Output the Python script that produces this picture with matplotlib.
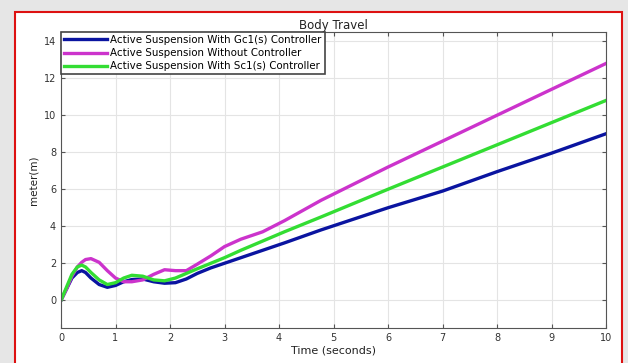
import numpy as np
import matplotlib.pyplot as plt
from matplotlib.patches import Rectangle

t = [0, 0.1, 0.2, 0.3, 0.38, 0.45, 0.55, 0.7, 0.85, 1.0, 1.15, 1.3, 1.5, 1.7, 1.9,
     2.1, 2.3, 2.5, 2.75, 3.0, 3.3, 3.7, 4.1, 4.77, 6.0, 7.0, 8.0, 9.0, 10.0]
gc1 = [0, 0.6, 1.2, 1.5, 1.6, 1.5, 1.2, 0.85, 0.7, 0.8, 1.0, 1.12, 1.15, 1.0, 0.92,
       0.95, 1.15, 1.45, 1.75, 2.0, 2.3, 2.7, 3.1, 3.8, 5.0, 5.9, 6.95, 7.95, 9.0]
without = [0, 0.6, 1.3, 1.8, 2.05, 2.2, 2.25, 2.05, 1.6, 1.2, 1.0, 1.0, 1.1, 1.4, 1.65,
           1.6, 1.6, 1.95, 2.4, 2.9, 3.3, 3.7, 4.3, 5.4, 7.2, 8.6, 10.0, 11.4, 12.8]
sc1 = [0, 0.7, 1.4, 1.8, 1.9, 1.8, 1.5, 1.1, 0.85, 0.95, 1.2, 1.35, 1.3, 1.1, 1.05,
       1.2, 1.45, 1.7, 2.0, 2.3, 2.7, 3.2, 3.7, 4.5, 6.0, 7.2, 8.4, 9.6, 10.8]

labels = ["Active Suspension With Gc1(s) Controller",
          "Active Suspension Without Controller",
          "Active Suspension With Sc1(s) Controller"]
colors = ["#0a14a0", "#cc33cc", "#33dd33"]

fig = plt.figure(figsize=(6.28, 3.63), dpi=100, facecolor="#e6e6e6")

# White panel with red border, behind the axes
fig.patches.append(Rectangle((15 / 628, -0.01), 607 / 628, 1.01 - 12 / 363,
                             transform=fig.transFigure, facecolor="white",
                             edgecolor="#dd1111", lw=1.5, zorder=-1))

ax = fig.add_axes([61 / 628, 1 - 328 / 363, 545 / 628, 296 / 363])
ax.set_zorder(1)

for y, lab, col in zip([gc1, without, sc1], labels, colors):
    ax.plot(t, y, color=col, lw=2.4, label=lab)

ax.set_xlim(0, 10)
ax.set_ylim(-1.5, 14.5)
ax.set_xticks(range(0, 11))
ax.set_yticks(range(0, 15, 2))
ax.grid(True, color="#e4e4e4", lw=0.8)
ax.tick_params(labelsize=7, direction="in", top=True, right=True,
               length=3, color="#555555", labelcolor="#333333")
for s in ax.spines.values():
    s.set_color("#555555")

ax.set_title("Body Travel", fontsize=8.5, pad=2, color="#222222")
ax.set_xlabel("Time (seconds)", fontsize=8, labelpad=2, color="#222222")
ax.set_ylabel("meter(m)", fontsize=7.5, labelpad=4, color="#222222")

leg = ax.legend(loc="upper left", fontsize=7.4, handlelength=4.2, borderpad=0.3,
                labelspacing=0.3, borderaxespad=0.0, handletextpad=0.3,
                fancybox=False, framealpha=1)
leg.get_frame().set_edgecolor("#444444")
leg.get_frame().set_linewidth(1.2)

fig.savefig("out.png", dpi=100, facecolor=fig.get_facecolor())
